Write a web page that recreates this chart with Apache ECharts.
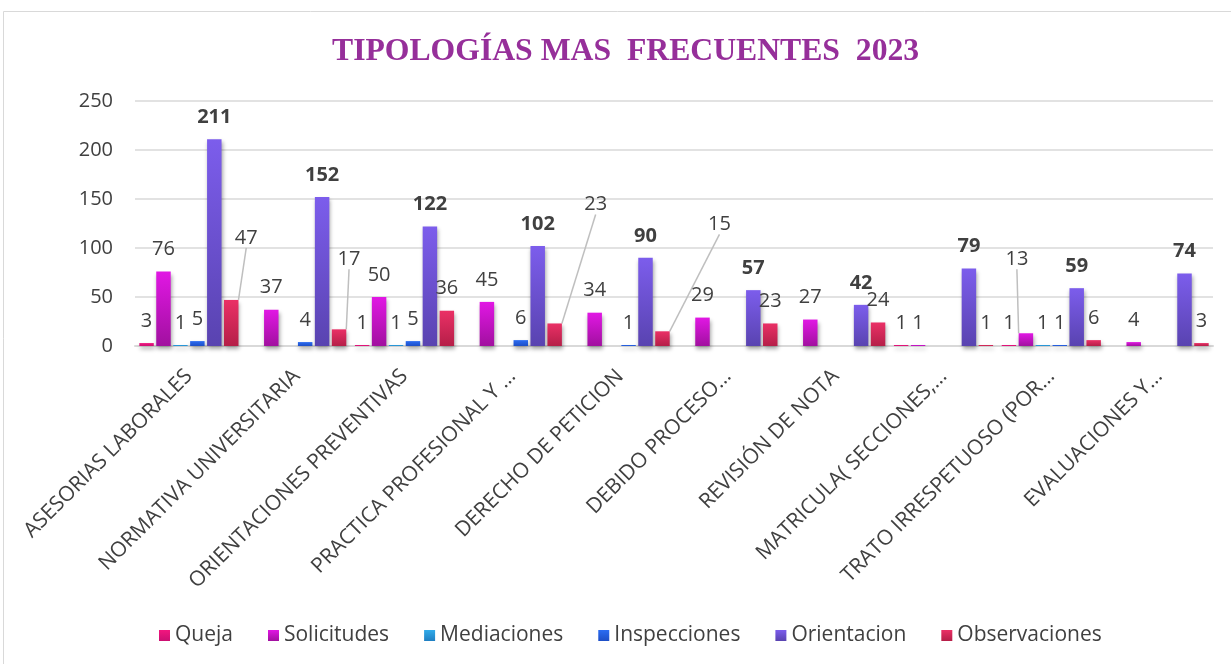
<!DOCTYPE html>
<html>
<head>
<meta charset="utf-8">
<title>Tipologías más frecuentes 2023</title>
<script src="https://cdn.jsdelivr.net/npm/echarts@6/dist/echarts.min.js"></script>
<style>
  html, body { margin: 0; padding: 0; background: #fff; }
  #chart { width: 1231px; height: 664px; }
</style>
</head>
<body>
<div id="chart"></div>
<script>
const categories = [
  'ASESORIAS LABORALES',
  'NORMATIVA UNIVERSITARIA',
  'ORIENTACIONES PREVENTIVAS',
  'PRACTICA PROFESIONAL Y …',
  'DERECHO DE PETICION',
  'DEBIDO PROCESO…',
  'REVISIÓN DE NOTA',
  'MATRICULA( SECCIONES,…',
  'TRATO IRRESPETUOSO (POR…',
  'EVALUACIONES Y…'
];
const queja = [3, null, 1, null, null, null, null, 1, 1, null];
const solicitudes = [76, 37, 50, 45, 34, 29, 27, 1, 13, 4];
const mediaciones = [1, null, 1, null, null, null, null, null, 1, null];
const inspecciones = [5, 4, 5, 6, 1, null, null, null, 1, null];
const orientacion = [211, 152, 122, 102, 90, 57, 42, 79, 59, 74];
const observaciones = [47, 17, 36, 23, 15, 23, 24, 1, 6, 3];
const yTicks = [0, 50, 100, 150, 200, 250];

// labels that were dragged away from their bar in the original (offset in px)
const moved = {
  Solicitudes: { 8: [-9, -52] },
  Observaciones: { 0: [15, -40], 1: [10, -48], 3: [41, -97], 4: [57, -85] }
};

const chart = echarts.init(document.getElementById('chart'));

function grad(top, bottom) {
  return new echarts.graphic.LinearGradient(0, 0, 0, 1, [
    { offset: 0, color: top },
    { offset: 1, color: bottom }
  ]);
}

function makeSeries(name, values, top, bottom, bold) {
  const shift = moved[name] || {};
  const data = values.map(function (v, i) {
    if (shift[i]) {
      return { value: v, labelLine: { show: true } };
    }
    return v;
  });
  return {
    name: name,
    type: 'bar',
    data: data,
    barGap: '17%',
    barCategoryGap: '8%',
    itemStyle: {
      color: grad(top, bottom),
      shadowColor: 'rgba(0,0,0,0.35)',
      shadowBlur: 4,
      shadowOffsetX: 1,
      shadowOffsetY: 3
    },
    label: {
      show: true,
      position: 'top',
      distance: 12,
      color: '#404040',
      fontFamily: 'Open Sans',
      fontSize: 20,
      fontWeight: bold ? 'bold' : 'normal'
    },
    labelLine: {
      show: false,
      lineStyle: { color: '#BFBFBF', width: 1.5 }
    },
    labelLayout: function (p) {
      const s = shift[p.dataIndex];
      return s ? { dx: s[0], dy: s[1] } : {};
    },
    emphasis: { disabled: true }
  };
}

const option = {
  backgroundColor: '#fff',
  animation: false,
  title: {
    text: 'TIPOLOGÍAS MAS  FRECUENTES  2023',
    left: 327,
    top: 31,
    textStyle: {
      fontFamily: 'Liberation Serif',
      fontWeight: 'bold',
      fontSize: 31.7,
      color: '#962F9A'
    }
  },
  graphic: [{
    type: 'rect',
    shape: { x: 3.5, y: 11.5, width: 1260, height: 700 },
    style: { fill: 'none', stroke: '#D9D9D9', lineWidth: 1 },
    silent: true
  }],
  legend: {
    left: 154,
    top: 620,
    itemWidth: 11,
    itemHeight: 11,
    itemGap: 35,
    icon: 'rect',
    textStyle: { fontFamily: 'Open Sans', fontSize: 21, color: '#404040' }
  },
  grid: { left: 135, right: 18, top: 101, bottom: 318 },
  xAxis: {
    type: 'category',
    data: categories,
    axisLine: { lineStyle: { color: '#D9D9D9', width: 2 } },
    axisTick: { show: false },
    axisLabel: {
      rotate: 45,
      interval: 0,
      margin: 27,
      color: '#404040',
      fontFamily: 'Open Sans',
      fontSize: 21
    }
  },
  yAxis: {
    type: 'value',
    min: yTicks[0],
    max: yTicks[yTicks.length - 1],
    interval: yTicks[1] - yTicks[0],
    axisLine: { show: false },
    axisTick: { show: false },
    splitLine: { lineStyle: { color: '#D9D9D9', width: 1.5 } },
    axisLabel: {
      margin: 22,
      color: '#404040',
      fontFamily: 'Open Sans',
      fontSize: 20
    }
  },
  series: [
    makeSeries('Queja', queja, '#F2167F', '#CC0F72'),
    makeSeries('Solicitudes', solicitudes, '#E117E4', '#A1109F'),
    makeSeries('Mediaciones', mediaciones, '#31ABEA', '#1F7FC2'),
    makeSeries('Inspecciones', inspecciones, '#2B6CF2', '#1D4EC6'),
    makeSeries('Orientacion', orientacion, '#7C5DEC', '#5943B0', true),
    makeSeries('Observaciones', observaciones, '#EA3066', '#B51F48')
  ]
};

chart.setOption(option);
</script>
</body>
</html>
